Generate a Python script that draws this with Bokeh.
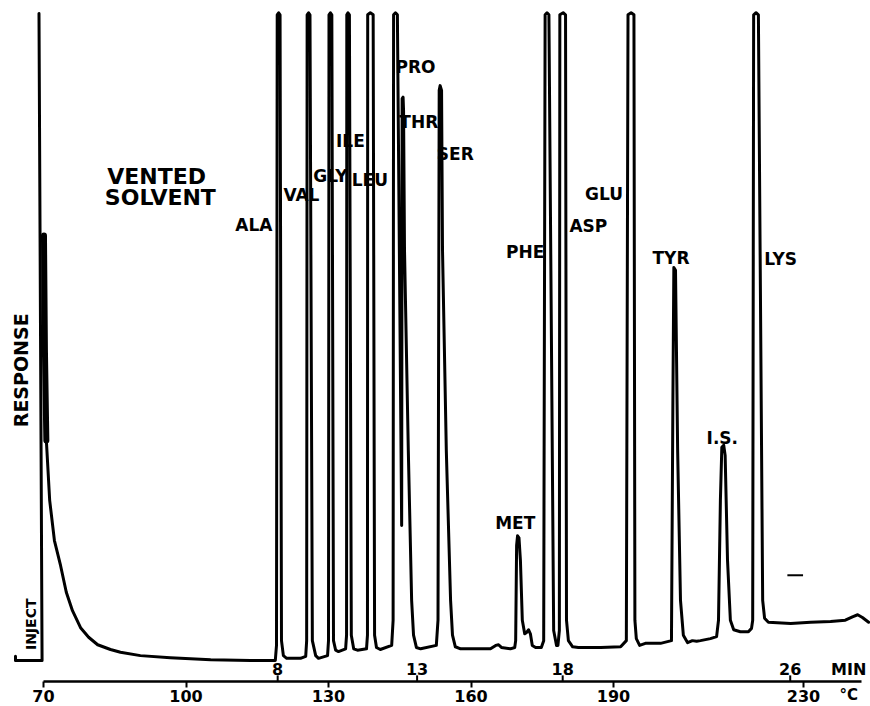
from bokeh.plotting import figure
from bokeh.models import Range1d, LinearAxis, FixedTicker, Label
from bokeh.core.properties import value
from bokeh.embed import file_html
from bokeh.resources import INLINE

# ---------------- data (temperature in degC, response in arbitrary units 0-100) ----------------
# injection mark (bracket + pen jump at injection)
inject_temp = [64.1, 64.1, 69.7, 69.05]
inject_resp = [3.7, 3.1, 3.1, 98.1]

# recorder trace: vented solvent tail followed by the amino-acid peaks
trace_temp = [
    70.1, 70.3, 70.6, 71.3, 72.3, 73.6, 74.8, 76.1, 77.8, 79.5, 81.4, 84.1, 86.2, 90.4, 96.7, 105.2, 113.6, 118.8,
    119.05, 119.2, 119.5, 119.8, 120.1, 120.5, 121.2, 124.1,
    125.2, 125.4, 125.5, 125.8, 126.1, 126.6, 127.3, 127.9,
    129.8, 130.0, 130.1, 130.4, 130.7, 131.05, 131.5, 132.1,
    133.6, 133.8, 133.85, 134.1, 134.4, 134.8, 135.3, 136.1,
    138.0, 138.2, 138.25, 138.8, 139.4, 139.7, 140.1, 140.9,
    143.3, 143.6, 143.7, 144.1, 144.5, 145.4,
    145.5, 145.7, 145.8, 146.0, 146.8, 147.5, 147.9, 148.5, 149.4,
    152.7, 153.05, 153.3, 153.5, 153.8, 154.0, 154.8, 155.7, 156.1, 156.7, 157.8,
    164.1, 165.2, 165.8, 166.4, 168.3, 169.2,
    169.4, 169.6, 169.8, 170.1, 170.4, 170.8, 171.3, 171.7, 172.1, 172.5, 172.9, 173.6, 174.8,
    175.3, 175.6, 176.0, 176.4, 177.4, 178.0, 178.3,
    178.6, 178.7, 179.4, 179.9, 180.1, 180.5, 181.4, 182.6, 187.3, 191.5,
    192.7, 193.05, 193.7, 194.3, 194.5, 194.8, 195.5, 196.7, 199.9,
    202.2, 202.5, 202.7, 203.05, 203.5, 204.1, 204.7, 205.6, 206.6, 207.5, 208.3, 210.4, 211.7,
    212.1, 212.5, 212.8, 213.2, 213.5, 214.0, 214.6, 215.3, 216.7, 218.4, 219.05,
    219.3, 219.5, 220.0, 220.5, 221.4, 221.8, 222.6, 227.3, 231.5, 235.7, 238.8, 240.3, 241.4, 242.4, 243.7,
]
trace_resp = [
    65.5, 48.6, 35.4, 26.6, 20.7, 17.0, 13.1, 10.4, 7.9, 6.5, 5.4, 4.7, 4.3, 3.8, 3.5, 3.2, 3.1, 3.1,
    5.3, 97.9, 98.2, 97.9, 6.0, 3.8, 3.4, 3.4,
    3.7, 6.0, 97.9, 98.2, 97.9, 6.0, 3.8, 3.4,
    3.8, 6.0, 97.9, 98.2, 97.9, 6.0, 4.6, 4.4,
    4.8, 6.8, 97.9, 98.2, 97.9, 6.8, 4.8, 4.6,
    4.8, 6.8, 97.9, 98.2, 97.9, 6.8, 5.0, 4.7,
    5.3, 9.0, 97.9, 98.2, 97.9, 22.9,
    85.6, 85.8, 83.8, 63.3, 33.9, 11.9, 6.8, 5.0, 4.8,
    5.3, 9.0, 86.8, 87.5, 86.8, 63.3, 33.9, 11.9, 6.8, 5.1, 4.8,
    4.8, 5.3, 5.4, 5.0, 4.8, 5.0,
    6.0, 20.0, 21.4, 21.1, 17.8, 9.0, 7.0, 7.2, 7.6, 7.0, 5.3, 5.0, 5.0,
    6.0, 97.9, 98.2, 97.9, 7.5, 5.3, 5.3,
    7.5, 97.9, 98.2, 97.9, 9.0, 6.0, 5.1, 5.0, 5.0, 5.1,
    6.0, 97.9, 98.2, 97.9, 9.0, 6.3, 5.3, 5.6, 5.6,
    6.0, 41.3, 60.8, 60.4, 33.9, 11.9, 6.8, 5.7, 6.0, 5.9, 6.0, 6.3, 6.6,
    9.0, 26.6, 34.4, 34.7, 33.2, 17.8, 9.0, 7.6, 7.3, 7.3, 7.8,
    9.0, 97.9, 98.2, 97.9, 11.9, 9.3, 8.7, 8.5, 8.7, 8.8, 9.0, 9.5, 9.8, 9.4, 8.7,
]

# stray pen mark near the end of the run
mark_temp = [226.6, 229.9]
mark_resp = [15.6, 15.6]

# peak identifications
peak_names = ["ALA", "VAL", "GLY", "ILE", "LEU", "PRO", "THR", "SER",
              "MET", "PHE", "ASP", "GLU", "TYR", "I.S.", "LYS"]
peak_label_temp = [114.3, 124.3, 130.4, 134.6, 138.7, 148.3, 149.0, 156.7,
                   169.3, 171.4, 184.7, 188.0, 202.1, 212.9, 225.2]
peak_label_resp = [67.0, 71.4, 74.2, 79.3, 73.6, 90.3, 82.2, 77.4,
                   23.3, 63.1, 66.9, 71.6, 62.2, 35.8, 62.0]

# axes
temp_ticks = [70, 100, 130, 160, 190, 230]
minutes = [8, 13, 18, 26]
minute_temp = [119.3, 148.65, 179.3, 227.2]

FONT = "DejaVu Sans"

p = figure(width=870, height=706, x_range=Range1d(60.947, 244.1), y_range=Range1d(-3.671, 100),
           output_backend="svg", toolbar_location=None, x_axis_type=None, y_axis_type=None,
           min_border=0)
p.outline_line_color = None
p.grid.visible = False
p.background_fill_color = "white"
p.border_fill_color = "white"

# temperature axis drawn at response 0 (inside the frame)
ax = LinearAxis(ticker=FixedTicker(ticks=temp_ticks), bounds=(70, 242.3), fixed_location=0)
ax.axis_line_width = 2.5
ax.axis_line_color = "black"
ax.major_tick_line_width = 2
ax.major_tick_out = 6
ax.major_tick_in = 0
ax.minor_tick_out = 0
ax.minor_tick_in = 0
ax.major_label_standoff = 2
ax.major_label_text_font = FONT
ax.major_label_text_font_style = "bold"
ax.major_label_text_font_size = "16px"
ax.major_label_text_color = "black"
p.add_layout(ax, "below")

# minute ticks and labels (above the temperature line)
p.segment(x0=minute_temp, y0=[0] * len(minutes), x1=minute_temp, y1=[0.9] * len(minutes),
          line_color="black", line_width=2)
p.text(x=minute_temp, y=[1.8] * len(minutes), text=[str(m) for m in minutes],
       text_font=value(FONT), text_font_style="bold", text_font_size="16px",
       text_align="center", text_baseline="middle", text_color="black")
p.text(x=[239.5], y=[1.8], text=["MIN"], text_font=value(FONT), text_font_style="bold",
       text_font_size="16px", text_align="center", text_baseline="middle", text_color="black")

# trace
p.line(inject_temp, inject_resp, line_color="black", line_width=3, line_join="round", line_cap="round")
p.line(trace_temp, trace_resp, line_color="black", line_width=3, line_join="round", line_cap="round")
p.line(trace_temp[:3], trace_resp[:3], line_color="black", line_width=6, line_cap="round")
p.line(mark_temp, mark_resp, line_color="black", line_width=2)

# peak labels
p.text(x=peak_label_temp, y=peak_label_resp, text=peak_names, text_font=value(FONT),
       text_font_style="bold", text_font_size="17px", text_align="center",
       text_baseline="middle", text_color="black")
p.text(x=[93.8, 94.6], y=[74.1, 71.1], text=["VENTED", "SOLVENT"], text_font=value(FONT),
       text_font_style="bold", text_font_size="22px", text_align="center",
       text_baseline="middle", text_color="black")
p.text(x=[65.2], y=[45.7], text=["RESPONSE"], angle=1.5708, text_font=value(FONT),
       text_font_style="bold", text_font_size="19px", text_align="center",
       text_baseline="middle", text_color="black")
p.text(x=[67.3], y=[8.4], text=["INJECT"], angle=1.5708, text_font=value(FONT),
       text_font_style="bold", text_font_size="14px", text_align="center",
       text_baseline="middle", text_color="black")

# temperature unit, beside the last tick label
p.text(x=[239.5], y=[-2.05], text=["°C"], text_font=value(FONT), text_font_style="bold",
       text_font_size="15px", text_align="center", text_baseline="middle", text_color="black")

open("out.html", "w").write(file_html(p, INLINE))
